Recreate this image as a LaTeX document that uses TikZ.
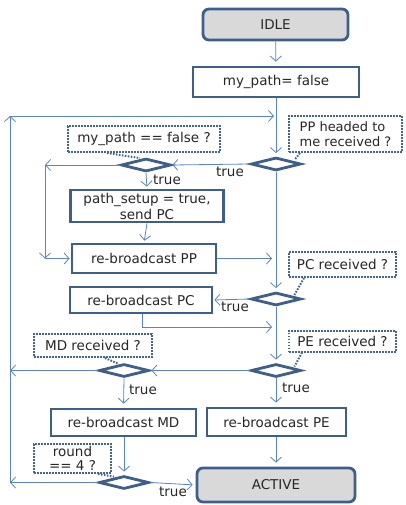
\documentclass[tikz,border=0pt]{standalone}
\usepackage{fontspec}
\setmainfont{DejaVu Sans}
\usetikzlibrary{shapes.geometric,arrows.meta,calc}
\definecolor{ln}{HTML}{5B84C4}
\definecolor{bd}{HTML}{3E5F8A}
\definecolor{gr}{HTML}{D9D9D9}
\definecolor{cl}{HTML}{44638F}
\definecolor{tx}{HTML}{262626}
\begin{document}
\begin{tikzpicture}[x=1pt,y=-1pt, font=\fontsize{13.5}{15}\selectfont,
 box/.style={draw=bd, line width=2.8pt, inner sep=1pt, text=tx, align=center},
 state/.style={box, rounded corners=6pt, fill=gr},
 dia/.style={diamond, draw=bd, line width=2.8pt, minimum width=50pt, minimum height=13pt, inner sep=0pt},
 call/.style={draw=cl, line width=2pt, dash pattern=on 1.6pt off 1.4pt, inner sep=1pt, text=tx},
 arr/.style={draw=ln, line width=0.8pt, -{Straight Barb[length=5pt,width=11pt]}},
 lin/.style={draw=ln, line width=0.8pt},
 tail/.style={draw=cl, line width=2pt, dash pattern=on 1.6pt off 1.4pt},
 lbl/.style={text=tx, inner sep=0pt}]
\useasboundingbox (0,0) rectangle (406,505);
% main nodes
\node[state, minimum width=145pt, minimum height=31pt] (idle) at (275.5,24.5) {IDLE};
\node[box, minimum width=166pt, minimum height=30pt] (mp) at (276,82) {my\_path= false};
\node[dia] (d1) at (276,164) {};
\node[dia] (d2) at (146,165) {};
\node[box, minimum width=153pt, minimum height=32pt, font=\fontsize{13.5}{16}\selectfont] (ps) at (147,206) {path\_setup = true,\\send PC};
\node[box, minimum width=144pt, minimum height=29pt] (pp) at (144,258.5) {re-broadcast PP};
\node[dia] (d3) at (276,299) {};
\node[box, minimum width=142pt, minimum height=26pt] (pc) at (141,300) {re-broadcast PC};
\node[dia] (d4) at (276,370.5) {};
\node[dia] (d5) at (124,370.5) {};
\node[box, minimum width=145pt, minimum height=27pt] (md) at (123.5,422.5) {re-broadcast MD};
\node[box, minimum width=139pt, minimum height=28pt] (pe) at (276.5,422) {re-broadcast PE};
\node[dia] (d6) at (124,482.5) {};
\node[state, minimum width=158pt, minimum height=34pt] (act) at (276,485) {ACTIVE};
% callouts
\node[call, minimum width=113pt, minimum height=36pt, align=left, font=\fontsize{13}{15}\selectfont] (cpp) at (345.5,134) {PP headed to\\me received ?};
\node[call, minimum width=152pt, minimum height=26pt] (cmp) at (144,139) {my\_path == false ?};
\node[call, minimum width=107pt, minimum height=25pt] (cpc) at (342.5,264.5) {PC received ?};
\node[call, minimum width=107pt, minimum height=21pt] (cpe) at (342.5,341) {PE received ?};
\node[call, minimum width=118pt, minimum height=23pt] (cmd) at (93,345.5) {MD received ?};
\node[call, minimum width=77pt, minimum height=29pt, align=center, font=\fontsize{13.5}{14}\selectfont] (cr) at (72.5,458.5) {round\\== 4 ?};
% callout tails
\draw[tail] ($(cpp.south west)+(12,0)$) -- ($(d1.east)+(-8,-4)$);
\draw[tail] ($(cmp.south west)+(40,0)$) -- ($(d2.north)+(-6,1)$);
\draw[tail] ($(cpc.south west)+(16,0)$) -- ($(d3.east)+(-8,-4)$);
\draw[tail] ($(cpe.south west)+(14,0)$) -- ($(d4.east)+(-8,-4)$);
\draw[tail] ($(cmd.south west)+(72,0)$) -- ($(d5.north)+(-6,1)$);
\draw[tail] ($(cr.south east)+(-14,0)$) -- ($(d6.north)+(-10,2)$);
% loop coordinates
\coordinate (lb) at (10,482.5);
\coordinate (lt) at (10,116);
\coordinate (sl) at (45,165);
\coordinate (sb) at (45,258.5);
\coordinate (pcd) at (142,327);
% connectors
\draw[arr, shorten >=4pt] (idle) -- (mp);
\draw[arr, shorten >=3pt] (mp) -- (d1);
\draw[arr] (d6.west) -- (lb);
\draw[arr] (d5.west) -- (d5 -| lb);
\draw[arr] (lb) -- (lt);
\draw[arr, shorten >=2pt] (lt) -- (lt -| mp.south);
\draw[arr] (d1.west) -- (d2.east);
\node[lbl] (t1) at (230,172) {true};
\draw[arr] (d2.west) -- (sl);
\draw[arr] (sl) -- (sb);
\draw[arr, shorten >=1pt] (sb) -- (pp.west);
\draw[arr, shorten >=2pt] (d2.south) -- (ps.north);
\node[lbl] (t2) at (167,180) {true};
\draw[arr, shorten >=2pt] (ps.south) -- (pp.north);
\draw[arr, shorten >=4pt] (pp.east) -- (pp.east -| d1.south);
\draw[arr, shorten >=3pt] (d1.south) -- (d3.north);
\draw[arr, shorten >=1pt] (d3.west) -- (pc.east);
\node[lbl] (t3) at (235,307) {true};
\draw[lin] (pc.south -| pcd) -- (pcd);
\draw[arr, shorten >=4pt] (pcd) -- (pcd -| d3.south);
\draw[arr, shorten >=3pt] (d3.south) -- (d4.north);
\draw[arr, shorten >=1pt] (d4.west) -- (d5.east);
\draw[arr, shorten >=4pt] (d5.south) -- (md.north);
\node[lbl] (t4) at (143,390) {true};
\draw[arr, shorten >=4pt] (d4.south) -- (d4.south |- pe.north);
\node[lbl] (t5) at (296,388) {true};
\draw[arr, shorten >=3pt] (md.south -| d6.north) -- (d6.north);
\draw[arr, shorten >=3pt] (d6.east) -- (act.west);
\node[lbl] (t6) at (173,492) {true};
\draw[arr, shorten >=4pt] (pe.south -| act.north) -- (act.north);
\end{tikzpicture}
\end{document}
